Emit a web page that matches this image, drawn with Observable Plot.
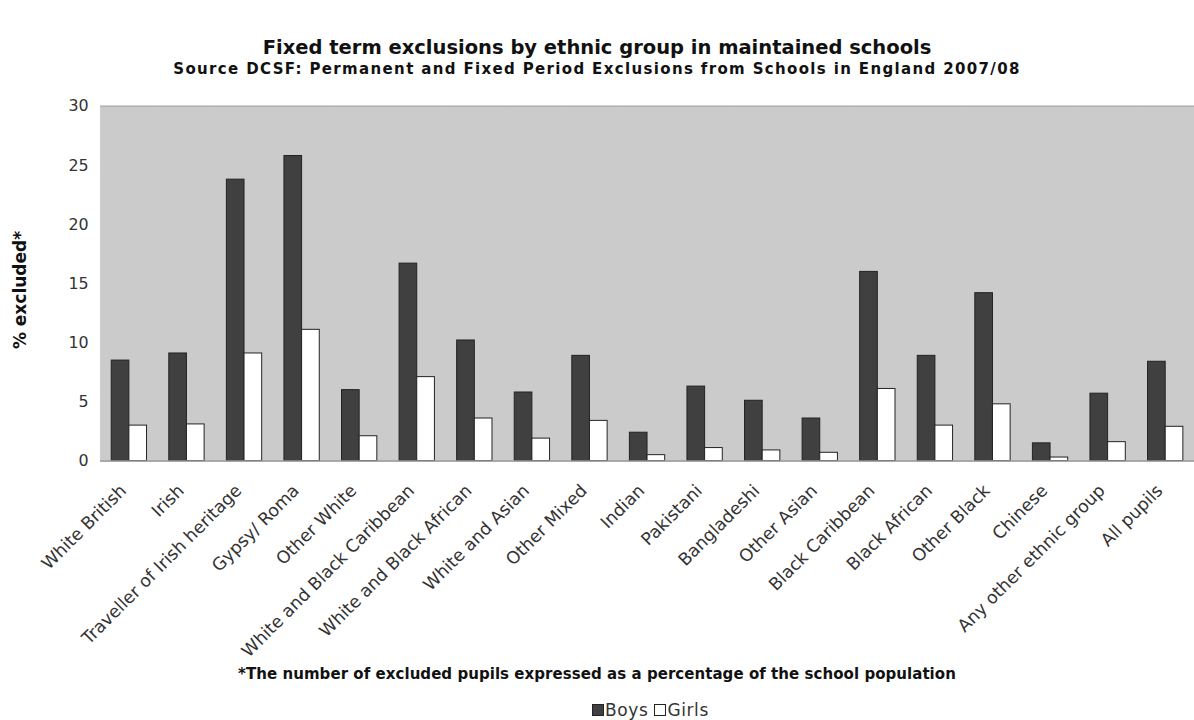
<!DOCTYPE html>
<html>
<head>
<meta charset="utf-8">
<script src="https://cdn.jsdelivr.net/npm/d3@7"></script>
<script src="https://cdn.jsdelivr.net/npm/@observablehq/plot@0.6"></script>
<style>
  body { margin: 0; background: #fff; width: 1194px; height: 720px; overflow: hidden; }
  #head { height: 90px; text-align: center; color: #111; }
  #title { font-family: "DejaVu Sans", sans-serif; font-weight: bold; font-size: 19.5px; line-height: 22px; padding-top: 37px; }
  #subtitle { font-family: "DejaVu Sans", sans-serif; font-weight: bold; font-size: 15px; line-height: 15px; margin-top: 3px; letter-spacing: 1.35px; }
  #chart { height: 560px; position: relative; width: 1194px; overflow: visible; }
  #chart svg { overflow: visible; }
  #ylabel { position: absolute; left: 20px; top: 200px; transform: translate(-50%, -50%) rotate(-90deg); font-family: "DejaVu Sans", sans-serif; font-weight: bold; font-size: 17px; color: #111; white-space: nowrap; }
  #caption { font-family: "DejaVu Sans", sans-serif; font-weight: bold; font-size: 15px; line-height: 16px; margin-top: 16px; text-align: center; color: #111; letter-spacing: 0.05px; position: relative; }
  #legend { font-family: "DejaVu Sans", sans-serif; font-size: 17px; line-height: 18px; margin-top: 19px; padding-left: 592px; color: #333; letter-spacing: 0.6px; position: relative; }
  .sw { display: inline-block; width: 10px; height: 10px; border: 1px solid #222; vertical-align: 0px; margin-right: 0px; }
</style>
</head>
<body>
<div id="head">
  <div id="title">Fixed term exclusions by ethnic group in maintained schools</div>
  <div id="subtitle">Source DCSF: Permanent and Fixed Period Exclusions from Schools in England 2007/08</div>
</div>
<div id="chart"><div id="ylabel">% excluded*</div></div>
<div id="caption">*The number of excluded pupils expressed as a percentage of the school population</div>
<div id="legend"></div>
<script>
const categories = [
  "White British", "Irish", "Traveller of Irish heritage", "Gypsy/ Roma", "Other White",
  "White and Black Caribbean", "White and Black African", "White and Asian", "Other Mixed",
  "Indian", "Pakistani", "Bangladeshi", "Other Asian", "Black Caribbean", "Black African",
  "Other Black", "Chinese", "Any other ethnic group", "All pupils"
];
const series = ["Boys", "Girls"];
const boys  = [8.5, 9.1, 23.8, 25.8, 6.0, 16.7, 10.2, 5.8, 8.9, 2.4, 6.3, 5.1, 3.6, 16.0, 8.9, 14.2, 1.5, 5.7, 8.4];
const girls = [3.0, 3.1, 9.1, 11.1, 2.1, 7.1, 3.6, 1.9, 3.4, 0.5, 1.1, 0.9, 0.7, 6.1, 3.0, 4.8, 0.3, 1.6, 2.9];
const yTicks = [0, 5, 10, 15, 20, 25, 30];

const colors = {Boys: "#404040", Girls: "#ffffff"};

const data = [];
categories.forEach((c, i) => {
  data.push({category: c, series: "Boys", value: boys[i]});
  data.push({category: c, series: "Girls", value: girls[i]});
});

const chart = Plot.plot({
  width: 1205,
  height: 560,
  marginTop: 16,
  marginBottom: 186,
  marginLeft: 101,
  marginRight: 0,
  style: {fontFamily: "DejaVu Sans, sans-serif", background: "transparent", overflow: "visible"},
  fx: {domain: categories, padding: 0, round: false, label: null},
  x: {domain: series, paddingInner: 0, paddingOuter: 0.63, round: false, axis: null},
  y: {domain: [0, 30], label: null},
  color: {domain: series, range: series.map(s => colors[s])},
  marks: [
    Plot.frame({fill: "#cbcbcb", stroke: "#cbcbcb"}),
    Plot.ruleY([30], {stroke: "#b0b0b0", strokeWidth: 1.5}),
    Plot.barY(data, {fx: "category", x: "series", y: "value", fill: "series", stroke: "#222", strokeWidth: 1}),
    Plot.ruleY([0], {stroke: "#9a9a9a", strokeWidth: 1.5}),
    Plot.axisY({ticks: yTicks, tickSize: 0, tickPadding: 12, fontSize: 16, fill: "#333", label: null}),
    Plot.axisFx({anchor: "bottom", tickRotate: -45, tickSize: 0, tickPadding: 27, dx: -6, fontSize: 17.5, fill: "#333", label: null})
  ]
});
document.getElementById("chart").appendChild(chart);

const legend = document.getElementById("legend");
series.forEach((s, i) => {
  const sw = document.createElement("span");
  sw.className = "sw";
  sw.style.background = colors[s];
  legend.appendChild(sw);
  const t = document.createElement("span");
  t.textContent = s;
  t.style.marginLeft = "1px";
  t.style.marginRight = i === 0 ? "6px" : "0";
  legend.appendChild(t);
});
</script>
</body>
</html>
